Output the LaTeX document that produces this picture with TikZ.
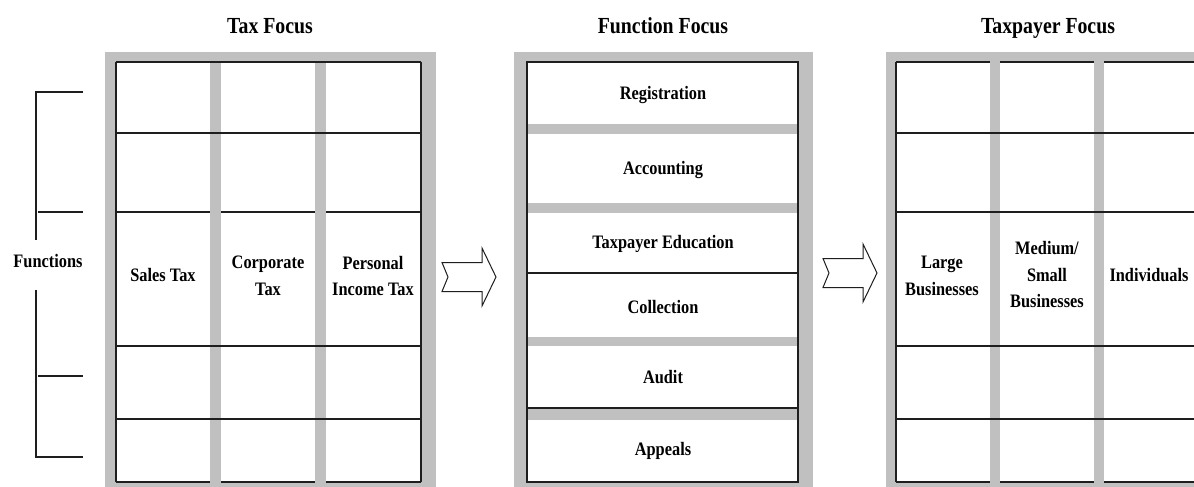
\documentclass[tikz,border=0pt]{standalone}
\usepackage{fontspec}
\setmainfont[FakeStretch=0.86]{Liberation Serif}
\definecolor{panelgray}{RGB}{192,192,192}
\definecolor{rulecol}{RGB}{30,30,30}
\begin{document}
\begin{tikzpicture}[x=1pt,y=-1pt,
  rule/.style={line width=1.3pt, draw=rulecol},
  thickrule/.style={line width=2pt, draw=rulecol},
  celltext/.style={font=\bfseries\fontsize{19}{26.5}\selectfont, align=center, inner sep=0pt},
  titletext/.style={font=\bfseries\fontsize{23}{27}\selectfont, inner sep=0pt, anchor=base},
  blockarrow/.pic={\draw[line width=1pt, draw=rulecol, fill=white, line join=miter]
      (0,-14.5) -- (40,-14.5) -- (40,-29) -- (54,0) -- (40,29) -- (40,14.5) -- (0,14.5) -- (6,0) -- cycle;}
]
\useasboundingbox (0,0) rectangle (1194,487);
\clip (0,0) rectangle (1194,487);
\fill[white] (0,0) rectangle (1194,487);

% ---------- titles ----------
\node[titletext] (t1) at (270,34) {Tax Focus};
\node[titletext] (t2) at (663,34) {Function Focus};
\node[titletext] (t3) at (1048,34) {Taxpayer Focus};

% ---------- left panel: Tax Focus ----------
\fill[panelgray] (105,52) rectangle (436,492);
\fill[white] (116,62) rectangle (421,482);
\fill[panelgray] (210,62) rectangle (221,482);
\fill[panelgray] (315,62) rectangle (326,482);
\draw[rule] (116,62) -- (421,62);
\draw[rule] (116,133) -- (421,133);
\draw[rule] (116,212) -- (210,212) (221,212) -- (315,212) (326,212) -- (421,212);
\draw[rule] (116,346) -- (421,346);
\draw[rule] (116,419) -- (421,419);
\draw[rule] (116,482) -- (210,482) (221,482) -- (315,482) (326,482) -- (421,482);
\draw[rule] (116,62) -- (116,482);
\draw[rule] (421,62) -- (421,482);

\node[celltext] (sales) at (163,275) {Sales Tax};
\node[celltext] (corp) at (268,276) {Corporate\\Tax};
\node[celltext] (pit) at (373,276) {Personal\\Income Tax};

% ---------- bracket ----------
\node[celltext] (funcs) at (48,261) {Functions};
\coordinate (b1) at (83,92);
\coordinate (b1c) at (36,92);
\coordinate (b2) at (36,240);
\coordinate (b3) at (36,290);
\coordinate (b4c) at (36,457);
\coordinate (b4) at (83,457);
\coordinate (k1a) at (38,212);
\coordinate (k1b) at (83,212);
\coordinate (k2a) at (38,376);
\coordinate (k2b) at (83,376);
\draw[rule] (b1) -- (b1c) -- (b2);
\draw[rule] (b3) -- (b4c) -- (b4);
\draw[rule] (k1a) -- (k1b);
\draw[rule] (k2a) -- (k2b);

% ---------- arrows ----------
\pic (arrA) at (442,277) {blockarrow};
\pic (arrB) at (823,273) {blockarrow};

% ---------- middle panel: Function Focus ----------
\fill[panelgray] (514,52) rectangle (813,492);
\fill[white] (527,62) rectangle (798,482);
\fill[panelgray] (527,124) rectangle (798,134);
\fill[panelgray] (527,203) rectangle (798,213);
\fill[panelgray] (527,337) rectangle (798,346);
\fill[panelgray] (527,409) rectangle (798,420);
\draw[rule] (527,62) rectangle (798,482);
\draw[thickrule] (527,273) -- (798,273);
\draw[rule] (527,408) -- (798,408);

\node[celltext] (reg) at (663,95) {Registration};
\node[celltext] (acc) at (663,170) {Accounting};
\node[celltext] (edu) at (663,244) {Taxpayer Education};
\node[celltext] (col) at (663,307) {Collection};
\node[celltext] (aud) at (663,377) {Audit};
\node[celltext] (app) at (663,451) {Appeals};

% ---------- right panel: Taxpayer Focus ----------
\fill[panelgray] (886,52) rectangle (1200,492);
\fill[white] (896,62) rectangle (1200,482);
\fill[panelgray] (990,62) rectangle (1000,482);
\fill[panelgray] (1094,62) rectangle (1104,482);
\draw[rule] (896,62) -- (990,62) (1000,62) -- (1094,62) (1104,62) -- (1200,62);
\draw[rule] (896,133) -- (1200,133);
\draw[rule] (896,212) -- (1200,212);
\draw[rule] (896,346) -- (1200,346);
\draw[rule] (896,419) -- (1200,419);
\draw[rule] (896,482) -- (990,482) (1000,482) -- (1094,482) (1104,482) -- (1200,482);
\draw[rule] (896,62) -- (896,482);

\node[celltext] (large) at (942,276) {Large\\Businesses};
\node[celltext] (medium) at (1047,275) {Medium/\\Small\\Businesses};
\node[celltext] (indiv) at (1149,275) {Individuals};
\end{tikzpicture}
\end{document}
